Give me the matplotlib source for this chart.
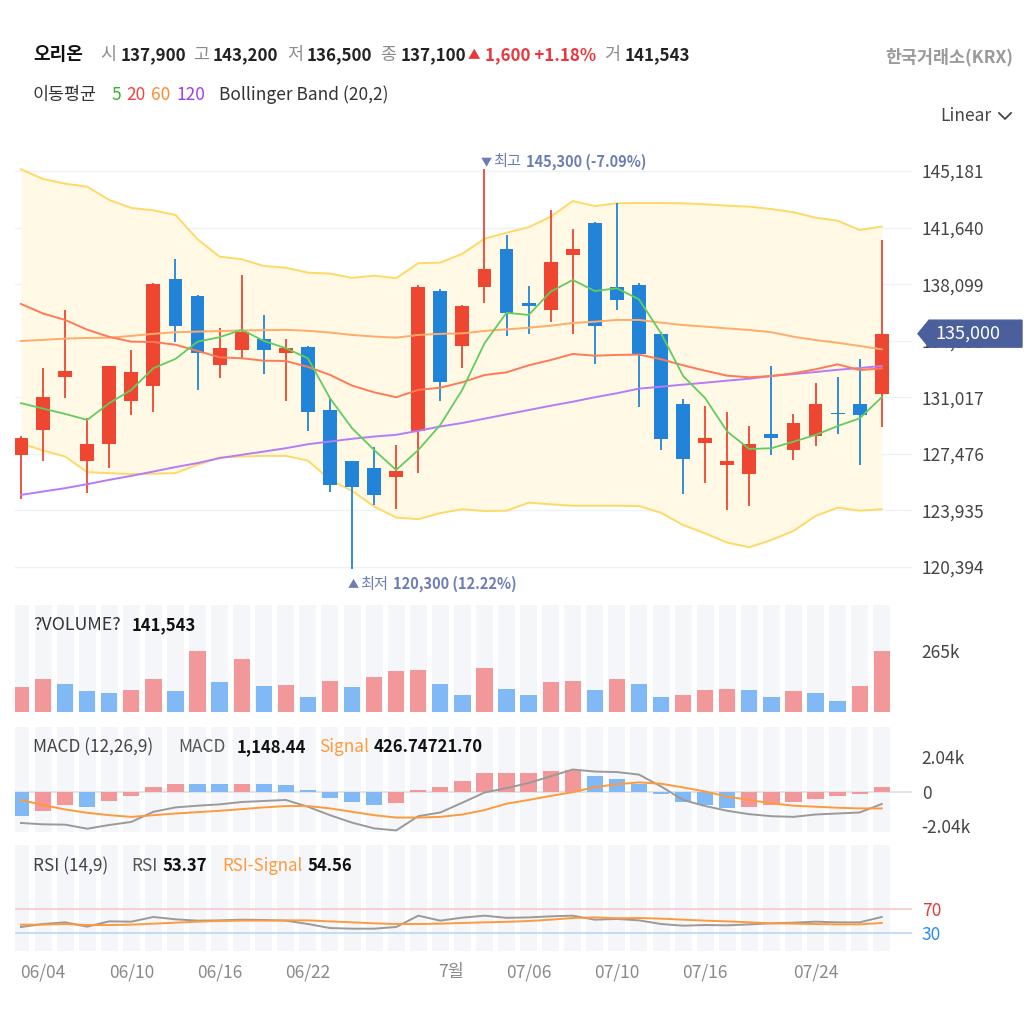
import numpy as np
import matplotlib
matplotlib.use('Agg')
import matplotlib.pyplot as plt
from matplotlib.lines import Line2D
from matplotlib.patches import Polygon

plt.rcParams['font.family'] = ['Noto Sans CJK KR', 'DejaVu Sans']

# ------------------------------------------
# data
# ------------------------------------------
opens = [127400, 129000, 132300, 127050, 128100, 130800, 131750, 138400, 137350, 133050,
         134000, 134650, 133800, 134150, 130200, 127000, 126600, 126000, 128900, 137700,
         134250, 137950, 140300, 136950, 136500, 139900, 141950, 137900, 138050, 135000,
         130600, 128150, 126750, 126200, 128700, 127700, 128600, 130050, 130600, 131200]
highs = [128600, 132850, 136500, 129700, 133000, 134000, 138150, 139650, 137450, 135350,
         138650, 136150, 134650, 134200, 131000, 127050, 127900, 128050, 138050, 137800,
         136800, 145300, 141150, 138000, 142750, 141550, 142000, 143200, 138150, 135100,
         130900, 130500, 130100, 129200, 133000, 130000, 131900, 132300, 133400, 140850]
lows = [124650, 127050, 131000, 125050, 126600, 129900, 130100, 134500, 131500, 132200,
        133500, 132500, 130800, 128900, 125100, 120300, 124300, 124000, 126250, 130800,
        132850, 136900, 134850, 135000, 135700, 135000, 133100, 136500, 130400, 127700,
        124950, 125650, 123950, 124200, 127400, 127100, 128000, 128750, 126800, 129150]
closes = [128450, 131050, 132650, 128100, 132950, 132600, 138100, 135500, 133800, 134100,
          135100, 134000, 134100, 130100, 125550, 125400, 124900, 126400, 137950, 131950,
          136750, 139050, 136300, 136750, 139500, 140300, 135500, 137100, 133700, 128400,
          127150, 128450, 127050, 128100, 128450, 129400, 130600, 129950, 129900, 135000]

ma5 = [130650, 130310, 129980, 129600, 130650, 131480, 132840, 133420, 134500, 134780,
       135240, 134550, 134090, 133460, 130960, 129080, 127720, 126470, 127720, 129290,
       131500, 134400, 136310, 136170, 137630, 138360, 137670, 137840, 137150, 135020,
       132350, 130960, 128870, 127780, 127830, 128240, 128660, 129220, 129700, 131020]
ma20 = [136860, 136260, 135860, 135250, 134800, 134500, 134480, 134310, 133920, 133520,
        133460, 133310, 133290, 132920, 132420, 131750, 131330, 131020, 131480, 131620,
        131960, 132410, 132580, 133020, 133350, 133730, 133620, 133670, 133690, 133400,
        133020, 132680, 132370, 132270, 132350, 132520, 132770, 133080, 132720, 132830]
ma60 = [134540, 134610, 134690, 134730, 134750, 134860, 134990, 135090, 135130, 135160,
        135200, 135220, 135240, 135180, 135070, 134920, 134820, 134750, 134920, 134990,
        135020, 135170, 135270, 135370, 135500, 135670, 135750, 135860, 135860, 135690,
        135540, 135440, 135330, 135230, 135090, 134810, 134600, 134430, 134230, 134020]
ma120 = [124910, 125120, 125330, 125580, 125850, 126100, 126370, 126650, 126900, 127210,
         127420, 127620, 127830, 128080, 128250, 128420, 128560, 128670, 128920, 129190,
         129410, 129680, 129950, 130220, 130490, 130740, 131020, 131270, 131560, 131680,
         131810, 131930, 132060, 132180, 132350, 132470, 132600, 132740, 132850, 132980]
bb_upper = [145290, 144680, 144390, 144200, 143370, 142870, 142720, 142430, 140910, 139820,
            139660, 139240, 139130, 138820, 138760, 138490, 138630, 138470, 139410, 139450,
            140000, 140945, 141320, 141660, 142320, 143300, 142990, 143160, 143180, 143180,
            143160, 143100, 143010, 142950, 142800, 142600, 142260, 142070, 141490, 141700]
bb_lower = [128140, 127680, 127310, 126330, 126270, 126210, 126230, 126270, 126790, 127250,
            127310, 127350, 127350, 127060, 125850, 125160, 124180, 123490, 123390, 123770,
            124010, 123900, 123920, 124420, 124320, 124230, 124230, 124230, 124210, 123790,
            123020, 122500, 121920, 121630, 122090, 122650, 123590, 124110, 123920, 124010]

volume = [109000, 142000, 123000, 90000, 82000, 96000, 142000, 90000, 265000, 130000,
          232000, 115000, 117000, 67000, 136000, 109000, 150000, 177000, 183000, 123000,
          75000, 190000, 102000, 75000, 130000, 136000, 96000, 141543, 123000, 67000,
          75000, 96000, 102000, 95000, 67000, 90000, 82000, 48000, 115000, 265000]

macd = [-1860, -1940, -1960, -2200, -1980, -1800, -1200, -940, -840, -760,
        -620, -560, -500, -900, -1400, -1840, -2180, -2300, -1460, -1240,
        -660, -60, 200, 500, 900, 1300, 1180, 1148, 1000, 300,
        -500, -860, -1140, -1340, -1460, -1500, -1360, -1300, -1240, -740]
macd_signal = [-500, -800, -1060, -1260, -1400, -1500, -1400, -1300, -1220, -1140,
               -1040, -940, -860, -860, -1000, -1200, -1400, -1540, -1540, -1500,
               -1360, -1100, -720, -500, -260, -40, 260, 427, 540, 460,
               240, 0, -300, -500, -700, -840, -900, -960, -1000, -1000]
macd_hist = [-1440, -1160, -800, -900, -540, -260, 260, 470, 465, 460,
             470, 465, 360, 100, -360, -640, -800, -700, 100, 260,
             640, 1080, 1100, 1110, 1200, 1300, 900, 740, 460, -160,
             -640, -800, -1000, -900, -800, -640, -440, -260, -160, 260]

rsi = [40, 45, 47.8, 40.6, 49.4, 48.9, 56.7, 52.8, 50.6, 51.1,
       52.2, 51.7, 50.6, 45, 38.3, 37.2, 37.2, 40, 58.9, 50.6,
       55.6, 58.9, 55.3, 56, 57.8, 58.9, 52.2, 53.4, 51.1, 45,
       42.2, 43.3, 42.8, 44.4, 46.1, 47.2, 48.9, 47.8, 47.8, 56.7]
rsi_signal = [43.9, 43.9, 45, 43.3, 43.3, 43.9, 45.6, 47.2, 48.9, 50,
              50.6, 50.6, 51.1, 51.1, 49.4, 47.8, 46.1, 45, 45, 45.6,
              46.7, 47.8, 48.6, 50, 52.2, 55, 56.1, 54.6, 55, 53.9,
              52.2, 50.6, 49.4, 47.8, 46.1, 45.6, 45, 44.4, 44.4, 46.7]

date_pos = [1, 5, 9, 13, 19.5, 23, 27, 31, 36]
date_labels = ['06/04', '06/10', '06/16', '06/22', '7월', '07/06', '07/10', '07/16', '07/24']
price_ticks = [120394, 123935, 127476, 131017, 134558, 138099, 141640, 145181]

hover = 27          # candle shown in the header
last_price = 135000

# ------------------------------------------
# colours
# ------------------------------------------
RED = '#ef4632'
BLUE = '#2184d8'
VOL_RED = '#f2989b'
VOL_BLUE = '#80b9f5'
STRIPE = '#f5f6fa'
GRID = '#eef1f6'

W, H = 1036, 1029
fig = plt.figure(figsize=(W / 100, H / 100), dpi=100)


def px_axes(x0, y0, x1, y1):
    ax = fig.add_axes([x0 / W, 1 - y1 / H, (x1 - x0) / W, (y1 - y0) / H])
    for s in ax.spines.values():
        s.set_visible(False)
    ax.set_xlim(-0.27, 40.37)
    ax.set_xticks([])
    ax.yaxis.tick_right()
    ax.tick_params(axis='y', length=0, pad=7, labelsize=12.5, labelcolor='#444')
    return ax


def texts(y, items, size=12.5):
    # items: (x, text, colour, weight[, size]); x, y in pixels from top-left, y = baseline
    for it in items:
        x, text, color, weight = it[:4]
        fs = it[4] if len(it) > 4 else size
        fig.text(x / W, 1 - y / H, text, color=color, fontweight=weight,
                 fontsize=fs, va='baseline', ha='left')


def to_px(ax, xv, yv):
    dx, dy = ax.transData.transform((xv, yv))
    return dx, H - dy


idx = np.arange(len(closes))
o = np.array(opens); c = np.array(closes)
hi = np.array(highs); lo = np.array(lows)

# ------------------------------------------
# price panel
# ------------------------------------------
ax = px_axes(15, 143, 912, 595)
ax.set_ylim(118643, 146934)
ax.set_yticks(price_ticks)
ax.set_yticklabels([f'{v:,}' for v in price_ticks])
ax.grid(axis='y', color=GRID, lw=1)
ax.set_axisbelow(True)

ax.fill_between(idx, bb_lower, bb_upper, color='#fff9e6', zorder=1, lw=0)
ax.plot(idx, bb_upper, color='#ffd966', lw=1.4, zorder=2)
ax.plot(idx, bb_lower, color='#ffd966', lw=1.4, zorder=2)

up = c >= o
cols = np.where(up, RED, BLUE)
ax.vlines(idx, lo, hi, colors=cols, lw=1.3, zorder=3)
ax.bar(idx, np.maximum(np.abs(c - o), 90), bottom=np.minimum(o, c), width=0.63,
       color=cols, zorder=3)

ax.plot(idx, ma120, color='#b67cf7', lw=1.4, zorder=4)
ax.plot(idx, ma60, color='#ffab6b', lw=1.4, zorder=4)
ax.plot(idx, ma20, color='#ff7a55', lw=1.4, zorder=4)
ax.plot(idx, ma5, color='#62cc5c', lw=1.3, zorder=4)

# high / low markers
ANN = '#6b7db4'
i_max = int(np.argmax(hi)); i_min = int(np.argmin(lo))
px, py = to_px(ax, i_max, hi[i_max])
texts(py - 3, [(px - 4, '▼', ANN, 'normal', 8),
               (px + 8.5, '최고', ANN, 'normal', 11),
               (px + 41.5, f'{hi[i_max]:,} ({(last_price - hi[i_max]) / hi[i_max] * 100:.2f}%)', ANN, 'bold', 10.5)])
px, py = to_px(ax, i_min, lo[i_min])
texts(py + 20, [(px - 4.5, '▲', ANN, 'normal', 8),
                (px + 8, '최저', ANN, 'normal', 11),
                (px + 41, f'{lo[i_min]:,} ({(last_price - lo[i_min]) / lo[i_min] * 100:.2f}%)', ANN, 'bold', 10.5)])

# current price tag
_, yc = to_px(ax, 0, last_price)
pts = [(918, yc), (929, yc - 13.5), (1022, yc - 13.5), (1022, yc + 13.5), (929, yc + 13.5)]
fig.add_artist(Polygon([(x / W, 1 - y / H) for x, y in pts], closed=True,
                       transform=fig.transFigure, color='#4a5f9c', zorder=10))
fig.text(968 / W, 1 - yc / H, f'{last_price:,}', color='white', fontsize=13,
         ha='center', va='center', zorder=11)

# ------------------------------------------
# volume panel
# ------------------------------------------
axv = px_axes(15, 605, 912, 712)
axv.set_ylim(0, 465000)
axv.bar(idx, 465000, width=0.77, color=STRIPE, zorder=0)
vol_up = np.r_[True, np.diff(volume) > 0]
axv.bar(idx, volume, width=0.74, color=np.where(vol_up, VOL_RED, VOL_BLUE), zorder=2)
axv.set_yticks([265000])
axv.set_yticklabels(['265k'])

# ------------------------------------------
# MACD panel
# ------------------------------------------
axm = px_axes(15, 727, 912, 832)
axm.set_ylim(-2394, 3813)
axm.bar(idx, 3813 + 2394, bottom=-2394, width=0.77, color=STRIPE, zorder=0)
axm.axhline(0, color='#e2e2e2', lw=1.3, zorder=1)
hist_up = np.r_[False, np.diff(macd_hist) > 0]
axm.bar(idx, macd_hist, width=0.74, color=np.where(hist_up, VOL_RED, VOL_BLUE), zorder=2)
axm.plot(idx, macd, color='#9a9a9a', lw=1.4, zorder=3)
axm.plot(idx, macd_signal, color='#ff9a3c', lw=1.4, zorder=3)
axm.set_yticks([-2040, 0, 2040])
axm.set_yticklabels(['-2.04k', '0', '2.04k'])

# ------------------------------------------
# RSI panel
# ------------------------------------------
axr = px_axes(15, 845, 912, 951)
axr.set_ylim(0, 176.7)
axr.bar(idx, 176.7, width=0.77, color=STRIPE, zorder=0)
axr.axhline(70, color='#f7c9c9', lw=1.2, zorder=1)
axr.axhline(30, color='#bcd6f5', lw=1.2, zorder=1)
axr.plot(idx, rsi, color='#9a9a9a', lw=1.4, zorder=3)
axr.plot(idx, rsi_signal, color='#ff9a3c', lw=1.4, zorder=3)
axr.set_yticks([30, 70])
axr.set_yticklabels(['30', '70'])
for lab, col in zip(axr.get_yticklabels(), ['#2a8cf0', '#e8383d']):
    lab.set_color(col)
axr.set_xticks(date_pos)
axr.set_xticklabels(date_labels)
axr.tick_params(axis='x', length=0, pad=9, labelsize=12.5, labelcolor='#8a8a8a')

# ------------------------------------------
# header texts
# ------------------------------------------
G = '#8c8c8c'; K = '#222222'; R = '#e8383d'
chg = closes[hover] - closes[hover - 1]
texts(60, [(33, '오리온', '#111111', 'bold', 13),
           (100, '시', G, 'normal'), (121, f'{opens[hover]:,}', K, 'bold', 12.2),
           (193, '고', G, 'normal'), (213, f'{highs[hover]:,}', K, 'bold', 12.2),
           (287, '저', G, 'normal'), (307, f'{lows[hover]:,}', K, 'bold', 12.2),
           (380, '종', G, 'normal'), (401, f'{closes[hover]:,}', K, 'bold', 12.2),
           (485, f'{chg:,} +{chg / closes[hover - 1] * 100:.2f}%', R, 'bold', 12.2),
           (604, '거', G, 'normal'), (625, f'{volume[hover]:,}', K, 'bold', 12.2)])
texts(59, [(468, '▲', R, 'normal', 9)])

texts(100, [(33, '이동평균', '#333333', 'normal'), (111, '5', '#2fb52f', 'normal'),
            (126, '20', '#f5413d', 'normal'), (151, '60', '#ff8a2a', 'normal'),
            (176, '120', '#9b3ff5', 'normal'), (219, 'Bollinger Band (20,2)', '#333333', 'normal')])

fig.text(1013 / W, 1 - 62 / H, '한국거래소(KRX)', color='#9a9a9a', fontweight='bold',
         fontsize=12.5, ha='right', va='baseline')
fig.text(940 / W, 1 - 121 / H, 'Linear', color='#444444', fontsize=12.5, va='baseline')
fig.add_artist(Line2D([999 / W, 1005 / W, 1011 / W], [1 - 113 / H, 1 - 119 / H, 1 - 113 / H],
                      transform=fig.transFigure, color='#444444', lw=1.3))

texts(630, [(33, '?VOLUME?', '#333333', 'normal', 12.8), (132, f'{volume[hover]:,}', '#111111', 'bold', 12)])
texts(752, [(33, 'MACD (12,26,9)', '#444444', 'normal', 12.4), (178, 'MACD', '#555555', 'normal', 12.4),
            (237, '1,148.44', '#111111', 'bold', 12), (319, 'Signal', '#ff9a3c', 'normal', 12.4),
            (374, '426.74721.70', '#111111', 'bold', 12)])
texts(871, [(33, 'RSI (14,9)', '#444444', 'normal', 12.4), (131, 'RSI', '#555555', 'normal', 12.4),
            (163, '53.37', '#111111', 'bold', 12), (222, 'RSI-Signal', '#ff9a3c', 'normal', 12.2),
            (308, '54.56', '#111111', 'bold', 12)])

fig.savefig('out.png', dpi=100)
